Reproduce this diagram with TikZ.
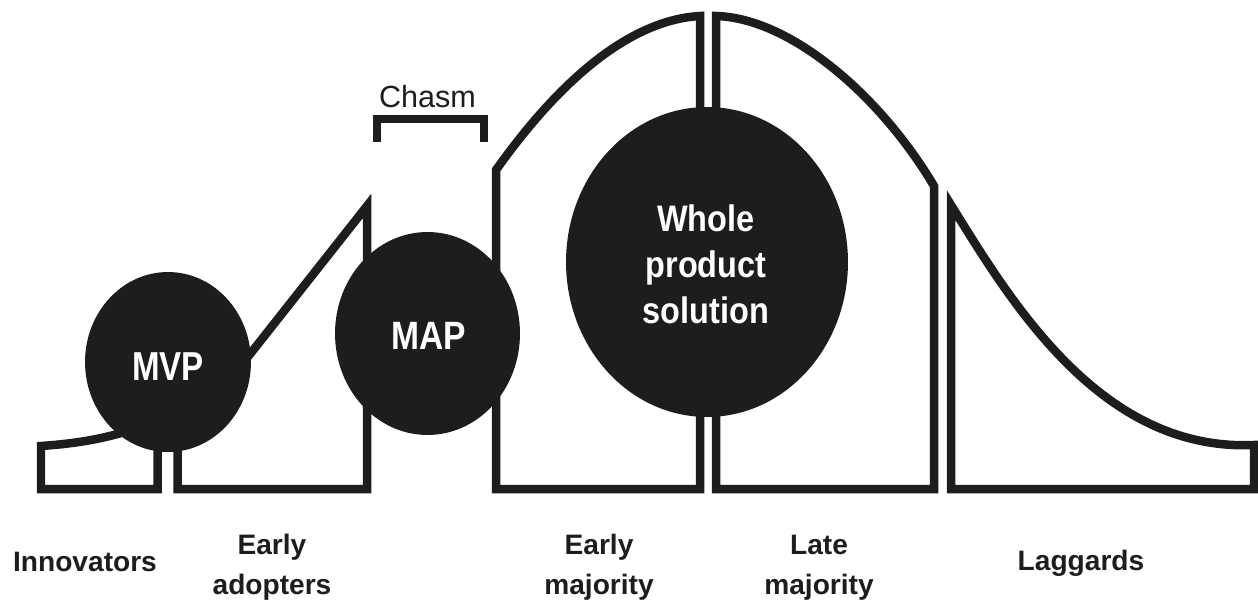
\documentclass[tikz,border=0pt]{standalone}
\usepackage{fontspec}
\setmainfont{Liberation Sans}
\newfontfamily\mvpfont[FakeStretch=0.82]{Liberation Sans}
\newfontfamily\mapfont[FakeStretch=0.85]{Liberation Sans}
\newfontfamily\wpsfont[FakeStretch=0.88]{Liberation Sans}
\usetikzlibrary{shapes.geometric}
\definecolor{ink}{HTML}{1E1C1D}
\begin{document}
\begin{tikzpicture}[x=0.02cm, y=-0.02cm,
  seg/.style={draw=ink, line width=0.17cm, line join=miter, line cap=butt},
  blob/.style={ellipse, fill=ink, draw=none, inner sep=0pt},
  intext/.style={text=white, anchor=base, align=center, inner sep=0pt},
  lbl/.style={text=ink, anchor=base, align=center, inner sep=0pt,
    font=\bfseries\fontsize{16}{22.76}\selectfont}]
\path[use as bounding box] (0,0) rectangle (1258,601);

% segments of the adoption curve
\draw[seg] (157.5,489) -- (41,489) -- (41,446)
  .. controls (85,443) and (120,436) .. (157.5,420) -- cycle;
\draw[seg] (177.5,489) -- (177.5,446) -- (367,206) -- (367,489) -- cycle;
\draw[seg] (496,489) -- (496,170)
  .. controls (560,80) and (630,20) .. (700,16) -- (700,489) -- cycle;
\draw[seg] (716,489) -- (716,16)
  .. controls (790,18) and (880,95) .. (934,186) -- (934,489) -- cycle;
\draw[seg] (951,489) -- (951,205)
  .. controls (1010,300) and (1100,452) .. (1254,445) -- (1254,489) -- cycle;

% chasm bracket
\draw[seg] (377,141.7) -- (377,119) -- (484,119) -- (484,141.7);
\node[text=ink, anchor=base, inner sep=0pt, font=\fontsize{17.4}{20}\selectfont]
  (chasm) at (427.5,107.3) {Chasm};

% discs
\node[blob, minimum width=3.32cm, minimum height=3.6cm] (mvp) at (168,362) {};
\node[blob, minimum width=3.7cm, minimum height=4.06cm] (map) at (427.5,333.5) {};
\node[blob, minimum width=5.64cm, minimum height=6.2cm] (wps) at (707,262) {};

\node[intext, font=\mvpfont\bfseries\fontsize{23}{27}\selectfont] (mvpt) at (168,380) {MVP};
\node[intext, font=\mapfont\bfseries\fontsize{22.5}{27}\selectfont] (mapt) at (429,350) {MAP};
\node[intext, font=\wpsfont\bfseries\fontsize{21}{26.05}\selectfont] (wpst) at (706,323.3)
  {Whole\\product\\solution};

% segment labels
\node[lbl] (inn) at (85,571.7) {Innovators};
\node[lbl] (ea) at (272,594) {Early\\adopters};
\node[lbl] (em) at (599,594) {Early\\majority};
\node[lbl] (lm) at (819,594) {Late\\majority};
\node[lbl] (lag) at (1081,570.5) {Laggards};
\end{tikzpicture}
\end{document}
